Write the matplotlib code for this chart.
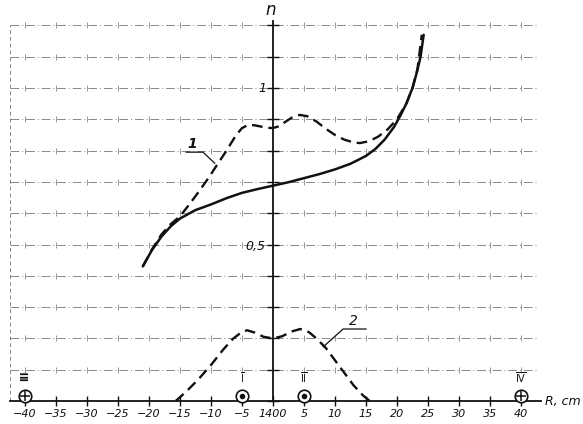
import numpy as np
import matplotlib
matplotlib.use("Agg")
import matplotlib.pyplot as plt

# curve 1 (solid) - n vs R
r_solid = [-21, -19.5, -18, -16.5, -15, -12.5, -10, -7.5, -5, -2.5, 0, 2.5, 5, 7.5, 10,
           12.5, 15, 16.5, 18, 19.5, 20.5, 21.5, 22.5, 23.2, 23.8, 24.3]
n_solid = [0.43, 0.483, 0.525, 0.558, 0.583, 0.61, 0.628, 0.648, 0.665, 0.677, 0.688,
           0.699, 0.712, 0.725, 0.74, 0.758, 0.783, 0.805, 0.835, 0.875, 0.91, 0.95,
           1.0, 1.05, 1.1, 1.17]

# curve 1 (dashed)
r_dash1 = [-21, -19.5, -18, -16.5, -15, -13.5, -12, -10.5, -9, -7.5, -6, -5, -4, -3, -2, -1,
           0, 1, 2, 3, 4.3, 5.5, 7, 8.5, 10, 11.5, 13, 14, 15.5, 17, 18.5, 20, 21.5,
           22.5, 23.3, 24.0]
n_dash1 = [0.43, 0.485, 0.532, 0.565, 0.59, 0.628, 0.668, 0.71, 0.755, 0.8, 0.848, 0.872,
           0.882, 0.881, 0.877, 0.873, 0.872, 0.878, 0.892, 0.905, 0.914, 0.91, 0.893,
           0.87, 0.85, 0.835, 0.826, 0.824, 0.83, 0.845, 0.868, 0.9, 0.95, 1.0, 1.06, 1.17]

# curve 2 (dashed)
r_dash2 = [-15.7, -14, -12, -10, -8, -6.5, -5.2, -4.2, -3, -1.5, 0, 1.5, 3, 4.4, 5.8,
           7, 8.5, 10, 11.5, 13, 14.5, 15.6]
n_dash2 = [0.0, 0.03, 0.07, 0.115, 0.165, 0.198, 0.218, 0.226, 0.219, 0.205, 0.2, 0.207,
           0.222, 0.23, 0.22, 0.2, 0.17, 0.13, 0.09, 0.05, 0.018, 0.0]

# electrodes
el_r = [-40, -5, 5, 40]
el_kind = ["plus", "dot", "dot", "plus"]
el_names = ["III", "I", "II", "IV"]

x_ticks = list(range(-40, 45, 5))
x_ticklabels = [str(v).replace("-", "\u2212") for v in x_ticks]
x_ticklabels[x_ticks.index(0)] = "1400"
y_grid = [round(0.1 * i, 1) for i in range(1, 13)]

INK = "#111111"

fig = plt.figure(figsize=(5.83, 4.24), dpi=100)
ax = fig.add_axes([0, 0, 1, 1])
# pixel mapping: R = (px - 273) / 6.2 ; n = (401 - py) / 313
ax.set_xlim((0 - 273) / 6.2, (583 - 273) / 6.2)
ax.set_ylim((401 - 424) / 313, (401 - 0) / 313)
ax.axis("off")

# grid: dash-dot horizontal lines with small crosses
for yv in y_grid:
    ax.plot([-42.4, 42.8], [yv, yv], color="#555555", lw=0.7, ls=(0, (9, 3, 1, 3)), alpha=0.7)
    ax.plot([v for v in x_ticks if v != 0], [yv] * (len(x_ticks) - 1), ls="none",
            marker="|", ms=4, mew=0.7, color="#555555", alpha=0.6)
ax.plot([-42.4, -42.4], [0, 1.2], color="#555555", lw=0.7, ls=(0, (4, 3)), alpha=0.7)

# axes
ax.plot([-42.4, 43.2], [0, 0], color=INK, lw=1.3)
ax.plot([0, 0], [0, 1.215], color=INK, lw=1.3)
ax.plot(x_ticks, [0] * len(x_ticks), ls="none", marker="|", ms=7, mew=1.0, color=INK)
ax.plot([0] * 13, [0] + y_grid, ls="none", marker="_", ms=8, mew=1.0, color=INK)

for xv, lab in zip(x_ticks, x_ticklabels):
    ax.text(xv, -0.04, lab, ha="center", va="center", fontsize=8, style="italic", color=INK)
ax.text(43.8, 0.0, "R, cm", ha="left", va="center", fontsize=9, style="italic", color=INK)
ax.text(-0.4, 1.248, "n", ha="center", va="center", fontsize=12, style="italic", color=INK)
ax.text(-1.7, 1.0, "1", ha="center", va="center", fontsize=9, style="italic", color=INK)
ax.text(-2.9, 0.495, "0,5", ha="center", va="center", fontsize=9, style="italic", color=INK)

# curves
ax.plot(r_solid, n_solid, color=INK, lw=1.8, solid_capstyle="round")
ax.plot(r_dash1, n_dash1, color=INK, lw=1.7, ls=(0, (4.5, 2.5)))
ax.plot(r_dash2, n_dash2, color=INK, lw=1.7, ls=(0, (4.5, 2.5)))

# curve labels with leaders
ax.text(-13.0, 0.82, "1", ha="center", va="center", fontsize=10, style="italic",
        weight="bold", color=INK)
ax.plot([-14.0, -11.3, -9.4], [0.795, 0.795, 0.76], color=INK, lw=0.9)
ax.text(12.9, 0.255, "2", ha="center", va="center", fontsize=10, style="italic", color=INK)
ax.plot([15.0, 11.3, 8.1], [0.23, 0.23, 0.173], color=INK, lw=0.9)

# electrodes
for r, kind, name in zip(el_r, el_kind, el_names):
    ax.plot(r, 0.017, marker="o", ms=9, mfc="white", mec=INK, mew=1.2)
    if kind == "plus":
        ax.plot(r, 0.017, marker="+", ms=7, mew=1.1, color=INK)
    else:
        ax.plot(r, 0.017, marker="o", ms=3, color=INK)
    if name == "III":
        ax.text(r, 0.08, name, ha="center", va="center", fontsize=7, rotation=90,
                weight="bold", color=INK)
    else:
        ax.text(r, 0.075, r"$\overline{\mathrm{%s}}$" % name, ha="center", va="center",
                fontsize=7, color=INK)

fig.savefig("out.png", dpi=100)
